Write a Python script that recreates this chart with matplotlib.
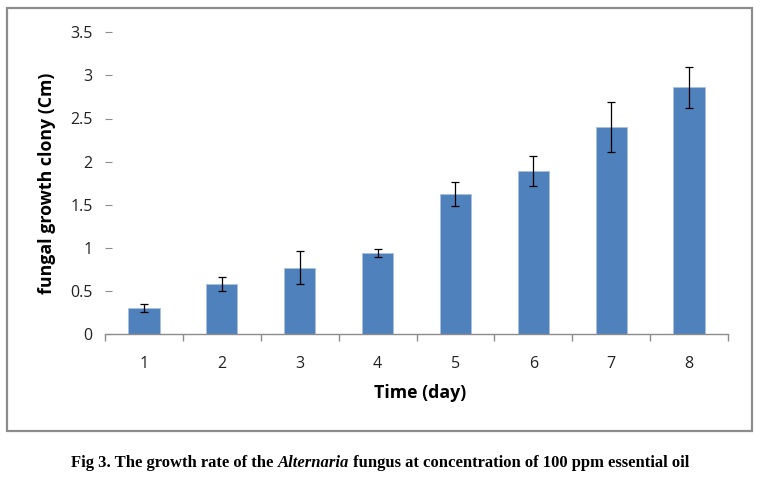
import matplotlib.pyplot as plt
from matplotlib.patches import Rectangle

# Daten
days = ["1", "2", "3", "4", "5", "6", "7", "8"]
growth = [0.30, 0.58, 0.77, 0.94, 1.62, 1.89, 2.40, 2.86]
errors = [0.05, 0.085, 0.195, 0.05, 0.14, 0.175, 0.29, 0.235]
y_ticks = [0, 0.5, 1, 1.5, 2, 2.5, 3, 3.5]

fig = plt.figure(figsize=(7.6, 4.87), dpi=100)
W, H = 760, 487

# grauer Rahmen um das Diagramm
fig.patches.append(Rectangle((7 / W, 1 - 431 / H), 745 / W, 423 / H, transform=fig.transFigure,
                             fill=False, edgecolor="#8c8c8c", linewidth=1.6))

ax = fig.add_axes([105 / W, 1 - 334 / H, 623 / W, (334 - 32.3) / H])
x = list(range(len(days)))
ax.bar(x, growth, width=0.4, color="#4f81bd", edgecolor="#a9c0de", linewidth=0.6, zorder=2)
ax.errorbar(x, growth, yerr=errors, fmt="none", ecolor="black", elinewidth=0.9,
            capsize=3, capthick=0.9, zorder=3)

ax.set_xlim(-0.5, len(days) - 0.5)
ax.set_ylim(0, 3.5)
ax.set_yticks(y_ticks)
ax.set_yticklabels(["0", "0.5", "1", "1.5", "2", "2.5", "3", "3.5"])
ax.set_xticks(x)
ax.set_xticklabels(days)
ax.set_xticks([i - 0.5 for i in range(len(days) + 1)], minor=True)

for s in ["top", "right", "left"]:
    ax.spines[s].set_visible(False)
ax.spines["bottom"].set_color("#8c8c8c")
ax.spines["bottom"].set_linewidth(1.0)

ax.tick_params(axis="y", direction="in", length=5, color="#8c8c8c", width=0.8,
               labelsize=11.5, labelcolor="#222222", pad=9)
ax.tick_params(axis="x", which="major", length=0, labelsize=11.5, labelcolor="#222222", pad=16)
ax.tick_params(axis="x", which="minor", length=5, color="#8c8c8c", width=1.0)
for lab in ax.get_xticklabels() + ax.get_yticklabels():
    lab.set_family("Open Sans")

ax.set_xlabel("Time (day)", fontsize=12.8, fontweight="bold", family="Open Sans")
ax.set_ylabel("fungal growth clony (Cm)", fontsize=12.8, fontweight="bold", family="Open Sans")
ax.xaxis.set_label_coords((420 - 105) / 623, (334 - 393) / 301.7)
ax.xaxis.label.set_va("center")
ax.yaxis.set_label_coords((47 - 105) / 623, 0.5)
ax.yaxis.label.set_va("center")

# Bildunterschrift mit kursivem Gattungsnamen, stückweise zusammengesetzt
parts = [("Fig 3. The growth rate of the ", "normal"), ("Alternaria", "italic"),
         (" fungus at concentration of 100 ppm essential oil", "normal")]
fig.canvas.draw()
r = fig.canvas.get_renderer()
texts = []
for txt, st in parts:
    t = fig.text(0, 1 - 467 / H, txt, family="Liberation Serif", fontweight="bold", style=st,
                 fontsize=12, va="baseline", ha="left")
    texts.append(t)
widths = [t.get_window_extent(r).width for t in texts]
xpos = (W - sum(widths)) / 2
for t, w in zip(texts, widths):
    t.set_x(xpos / W)
    xpos += w

fig.savefig("out.png", dpi=100)
